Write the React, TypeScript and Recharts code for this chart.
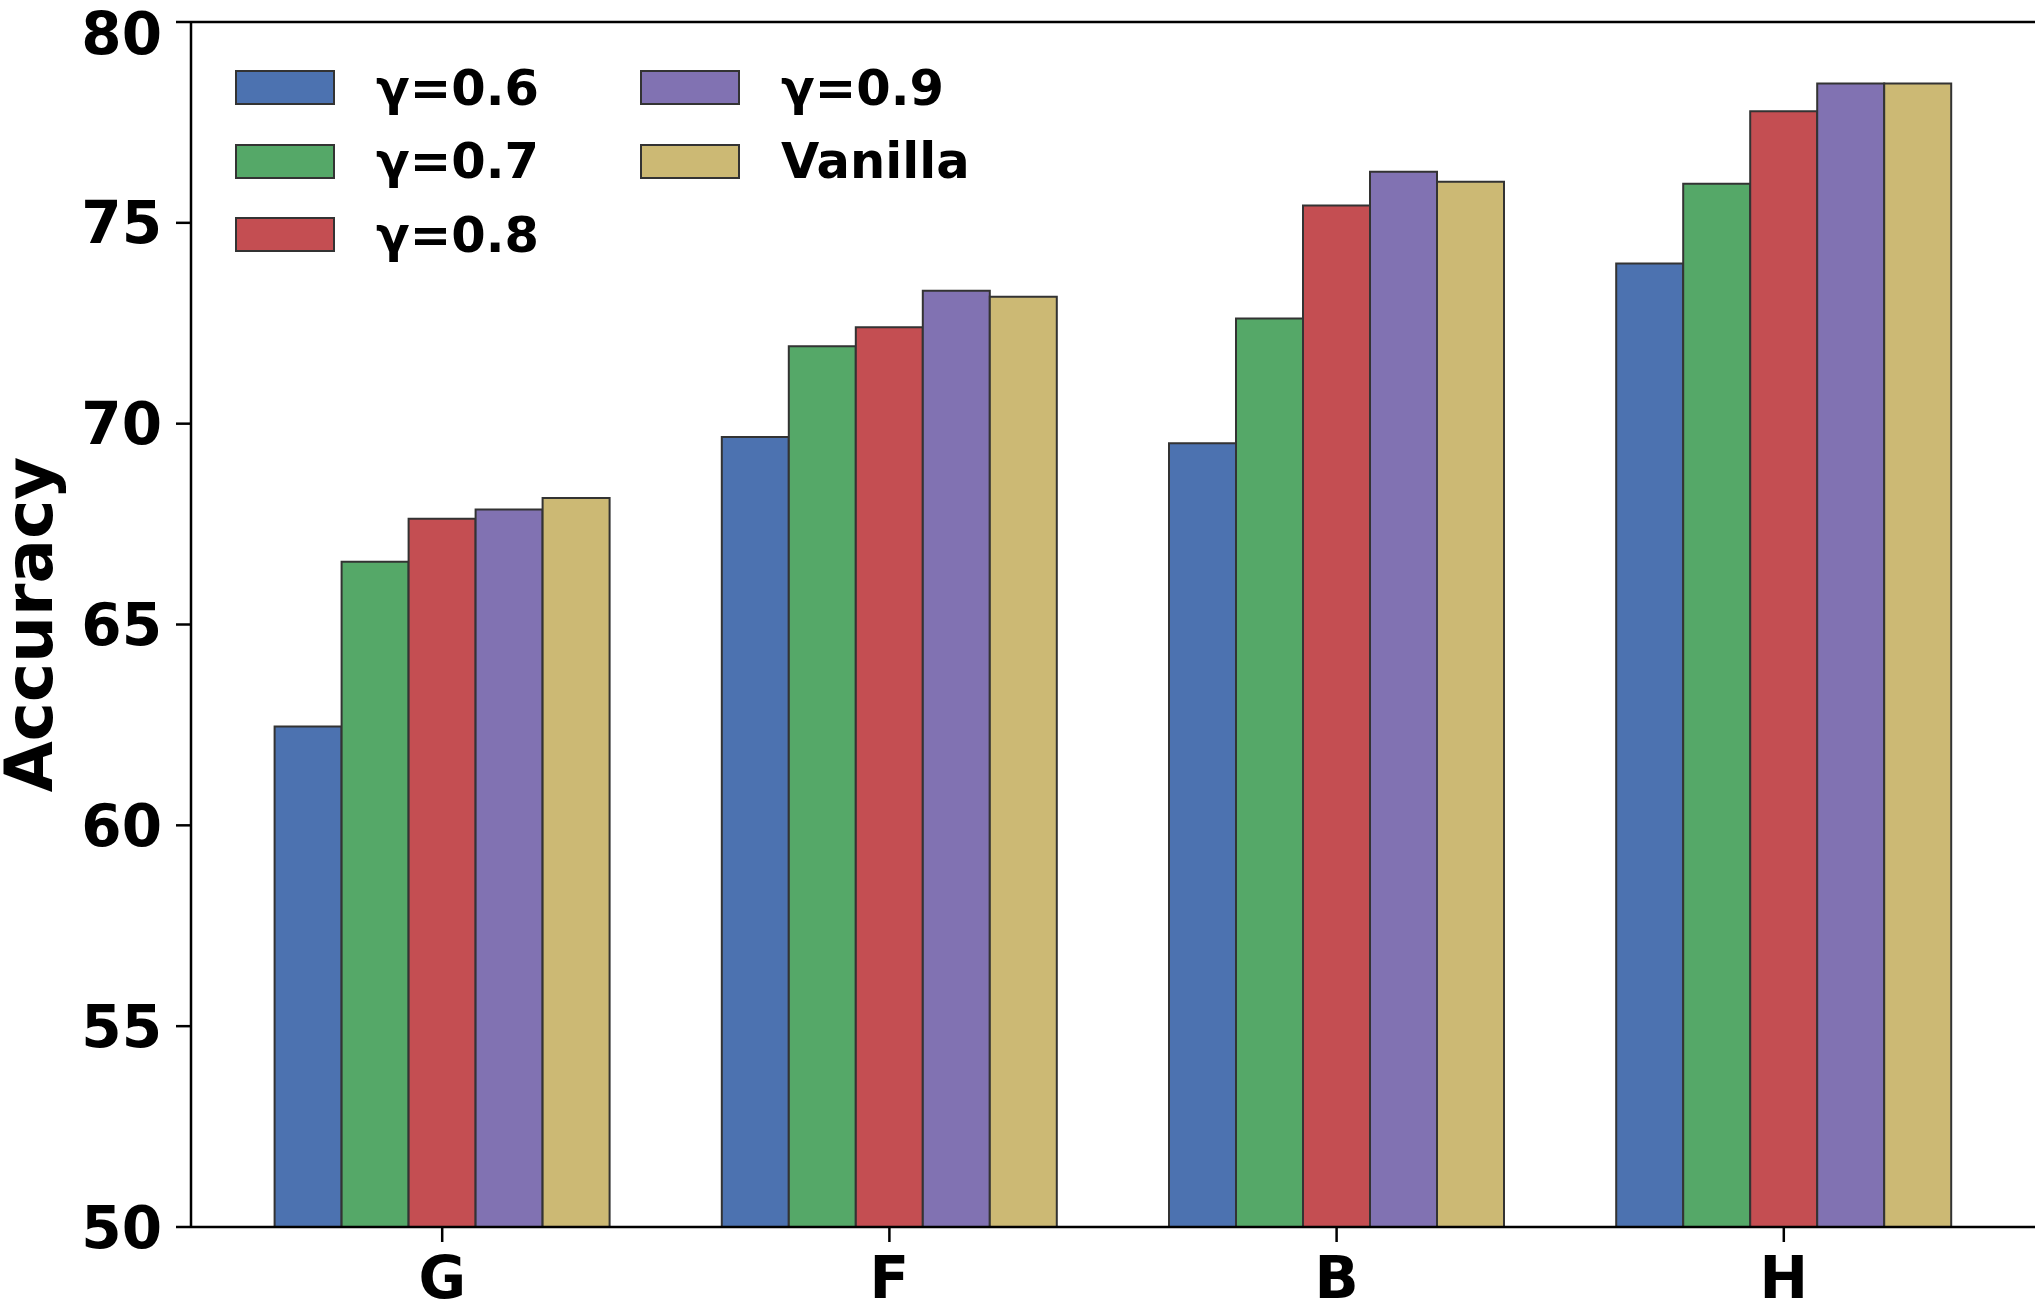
import { BarChart, Bar, XAxis, YAxis, Legend } from "recharts";

const categories = ["G", "F", "B", "H"];
const gamma06 = [62.46, 69.67, 69.51, 73.99];
const gamma07 = [66.56, 71.93, 72.62, 75.97];
const gamma08 = [67.63, 72.4, 75.43, 77.78];
const gamma09 = [67.86, 73.31, 76.27, 78.47];
const vanilla = [68.15, 73.16, 76.02, 78.47];
const yTicks = [50, 55, 60, 65, 70, 75, 80];

const series = [
  { key: "g06", name: "γ=0.6", color: "#4C72B0", values: gamma06 },
  { key: "g07", name: "γ=0.7", color: "#55A868", values: gamma07 },
  { key: "g08", name: "γ=0.8", color: "#C44E52", values: gamma08 },
  { key: "g09", name: "γ=0.9", color: "#8172B2", values: gamma09 },
  { key: "van", name: "Vanilla", color: "#CCB974", values: vanilla },
];

const data = categories.map((cat, i) => {
  const row: Record<string, string | number> = { cat };
  series.forEach((s) => {
    row[s.key] = s.values[i];
  });
  return row;
});

const FONT = "'DejaVu Sans', sans-serif";

// matplotlib-style legend: column-major, 3 rows, series order kept
const LegendBox = () => {
  const cols = [series.slice(0, 3), series.slice(3)];
  return (
    <div style={{ display: "flex", fontFamily: FONT }}>
      {cols.map((col, ci) => (
        <div key={ci} style={{ width: ci === 0 ? 405 : 360 }}>
          {col.map((s) => (
            <div key={s.key} style={{ display: "flex", alignItems: "center", height: 73.5 }}>
              <div
                style={{
                  width: 100,
                  height: 35,
                  boxSizing: "border-box",
                  background: s.color,
                  border: "2px solid #333",
                }}
              />
              <span
                style={{
                  marginLeft: 41,
                  fontSize: 49.5,
                  fontWeight: "bold",
                  color: "#000",
                  lineHeight: "50px",
                }}
              >
                {s.name}
              </span>
            </div>
          ))}
        </div>
      ))}
    </div>
  );
};

const YLabel = (props: any) => {
  const vb = props.viewBox || {};
  const x = 52;
  const y = vb.y + vb.height / 2;
  return (
    <text
      x={x}
      y={y}
      transform={`rotate(-90, ${x}, ${y})`}
      textAnchor="middle"
      fontFamily={FONT}
      fontWeight="bold"
      fontSize={66}
      fill="#000"
    >
      Accuracy
    </text>
  );
};

const tickStyle = { fontSize: 58, fontWeight: "bold", fill: "#000", fontFamily: FONT };

export default function App() {
  return (
    <div style={{ position: "absolute", left: 0, top: 0, background: "#fff" }}>
      <BarChart
        width={2039}
        height={1302}
        data={data}
        margin={{ top: 21, right: 4, bottom: 0, left: 0 }}
        barCategoryGap={56}
        barGap={0}
      >
        <XAxis
          dataKey="cat"
          height={75}
          padding={{ left: 27.6, right: 27.6 }}
          tick={tickStyle}
          tickSize={15}
          tickMargin={15}
          axisLine={{ stroke: "#000", strokeWidth: 2.5 }}
          tickLine={{ stroke: "#000", strokeWidth: 2.5 }}
        />
        <XAxis
          xAxisId="top"
          dataKey="cat"
          orientation="top"
          height={1}
          tick={false}
          tickLine={false}
          axisLine={{ stroke: "#000", strokeWidth: 2.5 }}
        />
        <YAxis
          width={191}
          domain={[50, 80]}
          ticks={yTicks}
          allowDataOverflow
          tick={tickStyle}
          tickSize={15}
          tickMargin={14}
          axisLine={{ stroke: "#000", strokeWidth: 2.5 }}
          tickLine={{ stroke: "#000", strokeWidth: 2.5 }}
          label={<YLabel />}
        />
        <YAxis
          yAxisId="right"
          orientation="right"
          width={0}
          domain={[0, 1]}
          tick={false}
          tickLine={false}
          axisLine={{ stroke: "#000", strokeWidth: 2.5 }}
        />
        <Legend
          layout="horizontal"
          verticalAlign="middle"
          align="center"
          content={<LegendBox />}
          wrapperStyle={{ left: 235, top: 51, width: "auto", height: "auto" }}
        />
        {series.map((s) => (
          <Bar
            key={s.key}
            dataKey={s.key}
            name={s.name}
            fill={s.color}
            stroke="#333"
            strokeWidth={2}
            isAnimationActive={false}
          />
        ))}
      </BarChart>
    </div>
  );
}
